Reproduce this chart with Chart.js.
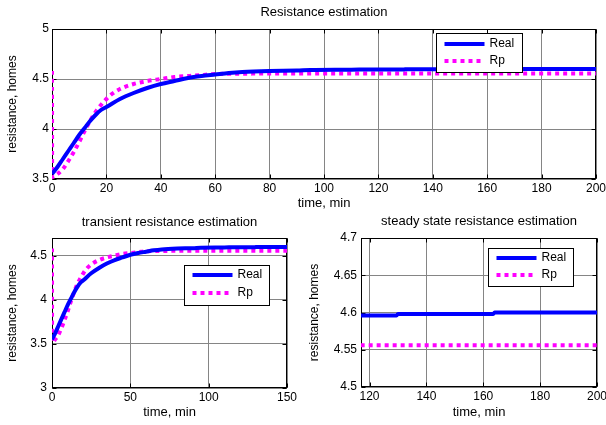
<!DOCTYPE html>
<html>
<head>
<meta charset="utf-8">
<script src="https://cdn.jsdelivr.net/npm/chart.js@4/dist/chart.umd.min.js"></script>
<style>
    html, body { margin: 0; padding: 0; background: #fff; overflow: hidden; }
    body { width: 606px; height: 425px; position: relative; }
    canvas { position: absolute; }
    #topChart { left: 0; top: 0; }
    #transientChart { left: 0; top: 212px; }
    #steadyChart { left: 300px; top: 212px; }
</style>
</head>
<body>
<canvas id="topChart" width="612" height="212"></canvas>
<canvas id="transientChart" width="300" height="213"></canvas>
<canvas id="steadyChart" width="312" height="213"></canvas>
<script>
// --- DATA ---
const seriesLabels = ['Real', 'Rp'];

const realTime = [0, 2, 4, 6, 8, 10, 12, 14, 16, 18, 20, 25, 30, 35, 40, 45, 50, 55, 60, 65, 70, 80, 90, 95, 110, 117, 129.5, 130, 163.5, 164, 200];
const realValues = [3.55, 3.62, 3.7, 3.78, 3.86, 3.94, 4.01, 4.08, 4.14, 4.19, 4.22, 4.3, 4.36, 4.41, 4.45, 4.48, 4.51, 4.53, 4.545, 4.56, 4.57, 4.58, 4.585, 4.59, 4.593, 4.596, 4.596, 4.598, 4.598, 4.6, 4.6];

const rpTime = [0, 0.05, 2, 4, 6, 8, 10, 12, 14, 16, 18, 20, 22, 25, 30, 35, 40, 45, 50, 55, 60, 70, 80, 100, 130, 200];
const rpValues = [4.58, 3.52, 3.55, 3.6, 3.68, 3.77, 3.87, 3.98, 4.08, 4.17, 4.24, 4.3, 4.35, 4.4, 4.45, 4.48, 4.5, 4.52, 4.53, 4.54, 4.55, 4.553, 4.555, 4.556, 4.556, 4.556];

const topXTicks = [0, 20, 40, 60, 80, 100, 120, 140, 160, 180, 200];
const topYTicks = [3.5, 4, 4.5, 5];
const transientXTicks = [0, 50, 100, 150];
const transientYTicks = [3, 3.5, 4, 4.5];
const steadyXTicks = [120, 140, 160, 180, 200];
const steadyYTicks = [4.5, 4.55, 4.6, 4.65, 4.7];

// --- STYLE ---
const FONT = 'Arial, "Liberation Sans", Helvetica, sans-serif';
const GRID_COLOR = '#858585';

function toPoints(xs, ys) {
    return xs.map((x, i) => ({ x: x, y: ys[i] }));
}

// axes box with inward tick marks, drawn under the data like matlab
const framePlugin = {
    id: 'frame',
    beforeDatasetsDraw(chart) {
        const { ctx, chartArea: a, scales } = chart;
        const L = Math.round(a.left) + 0.5;
        const R = Math.round(a.right) - 0.5;
        const T = Math.round(a.top) + 0.5;
        const B = Math.round(a.bottom) - 0.5;
        ctx.save();
        ctx.strokeStyle = '#000';
        ctx.lineWidth = 1;
        ctx.beginPath();
        scales.x.ticks.forEach((t) => {
            const px = Math.round(scales.x.getPixelForValue(t.value)) + 0.5;
            ctx.moveTo(px, B); ctx.lineTo(px, B - 4);
            ctx.moveTo(px, T); ctx.lineTo(px, T + 4);
        });
        scales.y.ticks.forEach((t) => {
            const py = Math.round(scales.y.getPixelForValue(t.value)) + 0.5;
            ctx.moveTo(L, py); ctx.lineTo(L + 4, py);
            ctx.moveTo(R, py); ctx.lineTo(R - 4, py);
        });
        ctx.stroke();
        ctx.strokeRect(L, T, R - L, B - T);
        ctx.restore();
    },
};

// legend box inside the plot area
const insideLegendPlugin = {
    id: 'insideLegend',
    afterDatasetsDraw(chart, args, opts) {
        const { ctx, chartArea: a } = chart;
        const x = Math.round(a.right - opts.right - opts.width) + 0.5;
        const y = Math.round(a.top + opts.top) + 0.5;
        ctx.save();
        ctx.fillStyle = '#fff';
        ctx.fillRect(x, y, opts.width, opts.height);
        ctx.strokeStyle = '#000';
        ctx.lineWidth = 1;
        ctx.strokeRect(x, y, opts.width, opts.height);
        chart.data.datasets.forEach((ds, i) => {
            const ly = Math.round(y + opts.rows[i]);
            ctx.beginPath();
            ctx.strokeStyle = ds.borderColor;
            ctx.lineWidth = ds.borderWidth;
            ctx.setLineDash(ds.borderDash || []);
            ctx.moveTo(x + 8, ly);
            ctx.lineTo(x + 48, ly);
            ctx.stroke();
            ctx.setLineDash([]);
            ctx.fillStyle = '#000';
            ctx.font = '12px ' + FONT;
            ctx.textBaseline = 'middle';
            ctx.fillText(ds.label, x + 53, ly);
        });
        ctx.restore();
    },
};

function buildChart(canvasId, cfg) {
    const ctx = document.getElementById(canvasId).getContext('2d');
    return new Chart(ctx, {
        type: 'line',
        data: {
            datasets: [
                {
                    label: seriesLabels[0],
                    data: toPoints(realTime, realValues),
                    borderColor: '#0000ff',
                    borderWidth: 4,
                    pointRadius: 0,
                    cubicInterpolationMode: 'monotone',
                    clip: 0,
                },
                {
                    label: seriesLabels[1],
                    data: toPoints(rpTime, rpValues),
                    borderColor: '#ff00ff',
                    borderWidth: 4,
                    borderDash: [4, 4],
                    borderCapStyle: 'butt',
                    pointRadius: 0,
                    cubicInterpolationMode: 'monotone',
                    clip: 0,
                },
            ],
        },
        options: {
            responsive: false,
            animation: false,
            events: [],
            layout: { padding: { left: 0, top: 0, bottom: 0, right: cfg.padRight } },
            plugins: {
                legend: { display: false },
                tooltip: { enabled: false },
                title: {
                    display: true,
                    fullSize: false,
                    text: cfg.title,
                    color: '#000',
                    font: { family: FONT, size: 13, weight: 'normal' },
                    padding: cfg.titlePadding,
                },
                insideLegend: cfg.legend,
            },
            scales: {
                x: {
                    type: 'linear',
                    min: cfg.xMin,
                    max: cfg.xMax,
                    afterBuildTicks: (s) => { s.ticks = cfg.xTicks.map((v) => ({ value: v })); },
                    afterFit: (s) => { s.height = cfg.xAxisHeight; },
                    grid: { color: GRID_COLOR, lineWidth: 1, drawTicks: false },
                    border: { display: false },
                    ticks: {
                        color: '#000',
                        padding: 2,
                        maxRotation: 0,
                        autoSkip: false,
                        font: { family: FONT, size: 12 },
                        callback: (v) => String(v),
                    },
                    title: {
                        display: true,
                        text: 'time, min',
                        color: '#000',
                        font: { family: FONT, size: 13 },
                        padding: { top: 0, bottom: cfg.xTitleBottom },
                    },
                },
                y: {
                    type: 'linear',
                    min: cfg.yMin,
                    max: cfg.yMax,
                    afterBuildTicks: (s) => { s.ticks = cfg.yTicks.map((v) => ({ value: v })); },
                    afterFit: (s) => { s.width = cfg.yAxisWidth; },
                    grid: { color: GRID_COLOR, lineWidth: 1, drawTicks: false },
                    border: { display: false },
                    ticks: {
                        color: '#000',
                        padding: cfg.yTickPad,
                        autoSkip: false,
                        font: { family: FONT, size: 12 },
                        callback: (v) => String(v),
                    },
                    title: {
                        display: true,
                        text: 'resistance, homes',
                        color: '#000',
                        font: { family: FONT, size: 12 },
                        padding: { top: cfg.yTitleLeft, bottom: 0 },
                    },
                },
            },
        },
        plugins: [framePlugin, insideLegendPlugin],
    });
}

buildChart('topChart', {
    title: 'Resistance estimation',
    titlePadding: { top: 4.2, bottom: 9.2 },
    padRight: 16,
    xMin: 0, xMax: 200, xTicks: topXTicks,
    yMin: 3.5, yMax: 5, yTicks: topYTicks,
    xAxisHeight: 33, xTitleBottom: 1.2,
    yAxisWidth: 52, yTickPad: 3, yTitleLeft: 5.8,
    legend: { right: 74, top: 4, width: 86, height: 39, rows: [10, 27] },
});

buildChart('transientChart', {
    title: 'transient resistance estimation',
    titlePadding: { top: 2.2, bottom: 8.2 },
    padRight: 13,
    xMin: 0, xMax: 150, xTicks: transientXTicks,
    yMin: 3, yMax: 4.7, yTicks: transientYTicks,
    xAxisHeight: 37, xTitleBottom: 5.2,
    yAxisWidth: 52, yTickPad: 5, yTitleLeft: 5.8,
    legend: { right: 18, top: 27, width: 85, height: 40, rows: [9, 27] },
});

buildChart('steadyChart', {
    title: 'steady state resistance estimation',
    titlePadding: { top: 1.2, bottom: 9.2 },
    padRight: 15,
    xMin: 117, xMax: 200, xTicks: steadyXTicks,
    yMin: 4.5, yMax: 4.7, yTicks: steadyYTicks,
    xAxisHeight: 38, xTitleBottom: 5.2,
    yAxisWidth: 61, yTickPad: 4, yTitleLeft: 7.8,
    legend: { right: 24, top: 10, width: 85, height: 38, rows: [9, 26] },
});
</script>
</body>
</html>
